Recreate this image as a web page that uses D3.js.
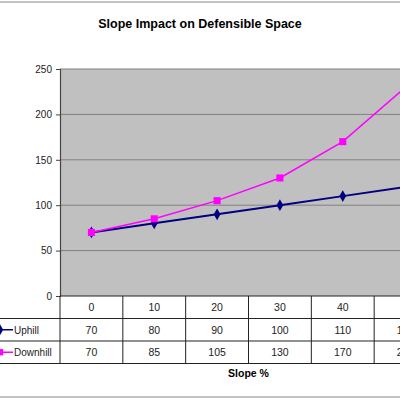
<!DOCTYPE html>
<html>
<head>
<meta charset="utf-8">
<script src="https://cdn.jsdelivr.net/npm/d3@7"></script>
<style>
  html, body { margin: 0; padding: 0; background: #fff; overflow: hidden; }
  svg { display: block; font-family: "Liberation Sans", Arial, sans-serif; }
</style>
</head>
<body>
<div id="chart"></div>
<script>
// Slope impact chart with data table under the plot
const slopes = [0, 10, 20, 30, 40, 50];
const uphill = [70, 80, 90, 100, 110, 120];
const downhill = [70, 85, 105, 130, 170, 230];
const yTicks = [0, 50, 100, 150, 200, 250];

const series = [
  { name: 'Uphill', values: uphill, color: '#000080', marker: 'diamond' },
  { name: 'Downhill', values: downhill, color: '#ff00ff', marker: 'square' }
];

const width = 400, height = 400;
const plot = { left: 60, right: 437, top: 69, bottom: 296 };
const rowH = 22.5;

const svg = d3.select('#chart').append('svg')
  .attr('width', width).attr('height', height);

// outer frame (mostly cropped at the sides)
svg.append('rect')
  .attr('x', -10).attr('y', 2).attr('width', 470).attr('height', 395)
  .attr('fill', '#fff').attr('stroke', '#888').attr('stroke-width', 1);

svg.append('text')
  .attr('x', 200).attr('y', 28)
  .attr('text-anchor', 'middle')
  .style('font-size', '12.5px').style('font-weight', 'bold')
  .text('Slope Impact on Defensible Space');

const x = d3.scaleBand().domain(slopes).range([plot.left, plot.right]);
const y = d3.scaleLinear().domain([0, 250]).range([plot.bottom, plot.top]);

svg.append('rect')
  .attr('x', plot.left).attr('y', plot.top)
  .attr('width', plot.right - plot.left).attr('height', plot.bottom - plot.top)
  .attr('fill', '#c0c0c0');

// gridlines
svg.append('g').selectAll('line')
  .data(yTicks.filter(d => d > 0))
  .enter().append('line')
  .attr('x1', plot.left).attr('x2', plot.right)
  .attr('y1', d => y(d)).attr('y2', d => y(d))
  .attr('stroke', '#808080').attr('stroke-width', 1);

// y axis
const yAxis = svg.append('g')
  .attr('transform', `translate(${plot.left},0)`)
  .call(d3.axisLeft(y).tickValues(yTicks).tickSize(4).tickPadding(4));
yAxis.select('.domain').attr('stroke', '#444').attr('stroke-width', 1.2);
yAxis.selectAll('.tick line').attr('stroke', '#444');
yAxis.selectAll('text').style('font-size', '10px').attr('fill', '#222')
  .style('font-family', '"Liberation Sans", Arial, sans-serif');

// lines and markers
const line = d3.line()
  .x((d, i) => x(slopes[i]) + x.bandwidth() / 2)
  .y(d => y(d));

series.forEach(s => {
  svg.append('path')
    .attr('d', line(s.values))
    .attr('fill', 'none')
    .attr('stroke', s.color)
    .attr('stroke-width', s.marker === 'square' ? 1.5 : 2);
  const sym = d3.symbol()
    .type(s.marker === 'square' ? d3.symbolSquare : d3.symbolDiamond)
    .size(s.marker === 'square' ? 50 : 40);
  svg.append('g').selectAll('path')
    .data(s.values)
    .enter().append('path')
    .attr('d', sym)
    .attr('fill', s.color)
    .attr('transform', (d, i) => `translate(${x(slopes[i]) + x.bandwidth() / 2},${y(d)})`);
});

// data table
const table = svg.append('g');
const tableTop = plot.bottom;
const tableBottom = tableTop + rowH * 3;

// horizontal lines
table.append('line')
  .attr('x1', plot.left).attr('x2', plot.right + 20)
  .attr('y1', tableTop).attr('y2', tableTop)
  .attr('stroke', '#222');
[1, 2, 3].forEach(r => {
  table.append('line')
    .attr('x1', 0).attr('x2', plot.right + 20)
    .attr('y1', tableTop + r * rowH).attr('y2', tableTop + r * rowH)
    .attr('stroke', '#222');
});
// vertical lines
slopes.concat(['end']).forEach((s, i) => {
  const xx = i < slopes.length ? x(s) : plot.right;
  table.append('line')
    .attr('x1', xx).attr('x2', xx)
    .attr('y1', tableTop).attr('y2', tableBottom)
    .attr('stroke', '#222');
});

// header row
table.selectAll('.hdr')
  .data(slopes)
  .enter().append('text')
  .attr('x', d => x(d) + x.bandwidth() / 2)
  .attr('y', tableTop + rowH / 2 + 4)
  .attr('text-anchor', 'middle')
  .style('font-size', '10.5px').attr('fill', '#222')
  .text(d => d);

series.forEach((s, r) => {
  const cy = tableTop + (r + 1) * rowH + rowH / 2;
  table.append('g').selectAll('text')
    .data(s.values)
    .enter().append('text')
    .attr('x', (d, i) => x(slopes[i]) + x.bandwidth() / 2)
    .attr('y', cy + 4)
    .attr('text-anchor', 'middle')
    .style('font-size', '10.5px').attr('fill', '#222')
    .text(d => d);

  // legend key
  table.append('line')
    .attr('x1', -3).attr('x2', 13)
    .attr('y1', cy).attr('y2', cy)
    .attr('stroke', s.color).attr('stroke-width', 1.5);
  table.append('path')
    .attr('d', d3.symbol()
      .type(s.marker === 'square' ? d3.symbolSquare : d3.symbolDiamond)
      .size(s.marker === 'square' ? 40 : 35))
    .attr('fill', s.color)
    .attr('transform', `translate(0,${cy})`);
  table.append('text')
    .attr('x', 14).attr('y', cy + 4)
    .style('font-size', '10px').attr('fill', '#222')
    .text(s.name);
});

svg.append('text')
  .attr('x', (plot.left + plot.right) / 2).attr('y', 377)
  .attr('text-anchor', 'middle')
  .style('font-size', '10.5px').style('font-weight', 'bold')
  .text('Slope %');
</script>
</body>
</html>
